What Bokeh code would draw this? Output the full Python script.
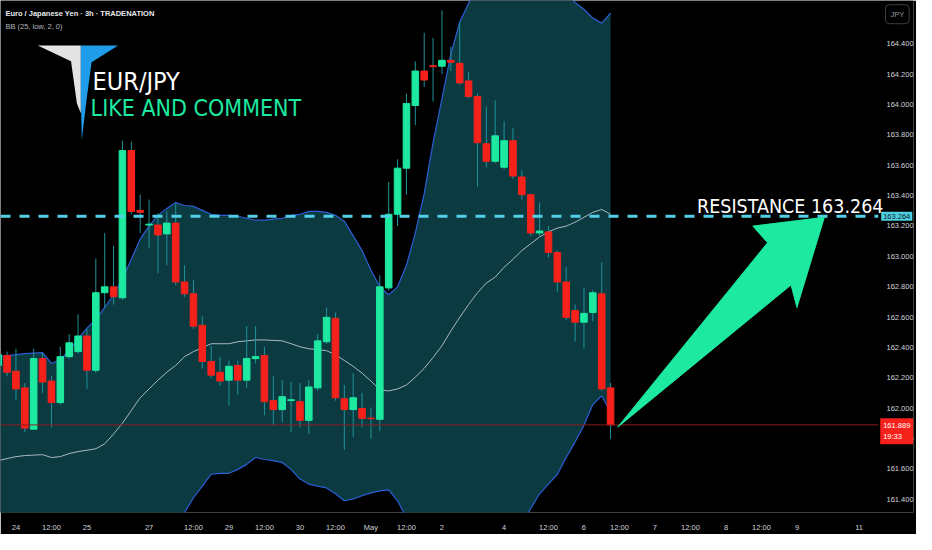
from bokeh.plotting import figure
from bokeh.models import Range1d, FixedTicker, Label, ColumnDataSource, NumeralTickFormatter
from bokeh.embed import file_html
from bokeh.resources import INLINE

# ---------------- data ----------------
bar_index = list(range(-1, 69))
opens = [162.281, 162.346, 162.243, 162.133, 161.861, 162.326, 162.178, 162.036, 162.339, 162.372,
         162.475, 162.249, 162.760, 162.799, 162.727, 163.697, 163.303, 163.206, 163.206, 163.148,
         163.219, 162.831, 162.753, 162.546, 162.307, 162.236, 162.184, 162.281, 162.184, 162.326,
         162.346, 162.049, 161.990, 162.049, 162.042, 161.919, 162.133, 162.437, 162.592, 162.062,
         161.990, 161.997, 161.934, 161.926, 162.792, 163.277, 163.581, 163.994, 164.221, 164.256,
         164.253, 164.292, 164.272, 164.156, 164.053, 163.742, 163.626, 163.587, 163.762, 163.523,
         163.406, 163.154, 163.161, 163.025, 162.831, 162.643, 162.566, 162.630, 162.753, 162.133]
highs = [162.378, 162.372, 162.391, 162.165, 162.391, 162.365, 162.210, 162.404, 162.488, 162.618,
         162.521, 162.986, 163.154, 163.070, 163.762, 163.755, 163.406, 163.374, 163.283, 163.296,
         163.348, 162.941, 162.844, 162.605, 162.411, 162.339, 162.314, 162.314, 162.540, 162.540,
         162.404, 162.210, 162.184, 162.172, 162.165, 162.184, 162.488, 162.663, 162.630, 162.152,
         162.230, 162.100, 162.004, 162.876, 163.490, 163.639, 164.072, 164.285, 164.473, 164.440,
         164.621, 164.382, 164.537, 164.214, 164.072, 163.988, 164.027, 163.891, 163.846, 163.568,
         163.413, 163.354, 163.199, 163.038, 162.928, 162.682, 162.792, 162.779, 162.960, 162.165]
lows = [162.243, 162.210, 162.055, 161.842, 161.855, 162.100, 161.874, 162.023, 162.326, 162.359,
        162.126, 162.230, 162.663, 162.682, 162.714, 163.277, 163.154, 163.057, 162.889, 162.941,
        162.811, 162.734, 162.521, 162.262, 162.197, 162.146, 162.016, 162.087, 162.133, 162.294,
        161.952, 161.887, 161.906, 161.842, 161.874, 161.831, 162.113, 162.424, 162.049, 161.725,
        161.810, 161.874, 161.797, 161.848, 162.773, 163.199, 163.406, 163.865, 164.117, 164.020,
        164.201, 164.221, 164.130, 164.040, 163.458, 163.587, 163.613, 163.574, 163.510, 163.374,
        163.135, 163.135, 162.992, 162.766, 162.579, 162.437, 162.391, 162.572, 162.113, 161.797]
closes = [162.352, 162.236, 162.126, 161.868, 162.326, 162.172, 162.036, 162.339, 162.430, 162.475,
          162.249, 162.760, 162.799, 162.734, 163.697, 163.296, 163.290, 163.212, 163.141, 163.219,
          162.831, 162.753, 162.540, 162.307, 162.217, 162.178, 162.275, 162.184, 162.326, 162.339,
          162.042, 161.990, 162.075, 162.055, 161.919, 162.139, 162.443, 162.598, 162.068, 161.990,
          162.068, 161.932, 161.930, 162.799, 163.277, 163.581, 164.007, 164.221, 164.162, 164.250,
          164.292, 164.279, 164.143, 164.053, 163.749, 163.626, 163.794, 163.762, 163.529, 163.406,
          163.154, 163.167, 163.025, 162.831, 162.598, 162.566, 162.624, 162.760, 162.126, 161.889]

bb_upper = [162.339, 162.346, 162.352, 162.359, 162.362, 162.365, 162.294, 162.320, 162.378, 162.456,
            162.527, 162.585, 162.663, 162.747, 162.850, 162.980, 163.115, 163.199, 163.270, 163.316,
            163.354, 163.335, 163.329, 163.303, 163.277, 163.270, 163.270, 163.264, 163.251, 163.238,
            163.238, 163.245, 163.251, 163.270, 163.277, 163.296, 163.296, 163.290, 163.270, 163.232,
            163.135, 163.038, 162.908, 162.799, 162.747, 162.799, 162.941, 163.154, 163.413, 163.749,
            164.040, 164.331, 164.544, 164.667, 164.783, 164.867, 164.912, 164.932, 164.912, 164.848,
            164.828, 164.822, 164.822, 164.809, 164.725, 164.673, 164.628, 164.570, 164.537, 164.602]
bb_basis = [161.654, 161.667, 161.680, 161.687, 161.690, 161.693, 161.674, 161.680, 161.700, 161.713,
            161.722, 161.732, 161.764, 161.829, 161.900, 161.984, 162.068, 162.126, 162.184, 162.236,
            162.281, 162.339, 162.372, 162.398, 162.424, 162.424, 162.424, 162.437, 162.443, 162.449,
            162.449, 162.446, 162.443, 162.424, 162.404, 162.391, 162.385, 162.378, 162.352, 162.314,
            162.275, 162.230, 162.178, 162.120, 162.113, 162.126, 162.152, 162.204, 162.262, 162.333,
            162.411, 162.508, 162.598, 162.682, 162.760, 162.824, 162.863, 162.928, 162.980, 163.038,
            163.083, 163.128, 163.161, 163.186, 163.199, 163.225, 163.257, 163.290, 163.309, 163.277]
bb_lower = [160.969, 160.989, 161.008, 161.014, 161.021, 161.021, 161.053, 161.040, 161.021, 160.969,
            160.918, 160.879, 160.866, 160.911, 160.950, 160.989, 161.021, 161.066, 161.131, 161.195,
            161.254, 161.312, 161.409, 161.486, 161.564, 161.570, 161.570, 161.596, 161.629, 161.674,
            161.661, 161.654, 161.641, 161.596, 161.532, 161.499, 161.486, 161.474, 161.435, 161.389,
            161.402, 161.422, 161.441, 161.454, 161.461, 161.389, 161.279, 161.254, 161.111, 160.918,
            160.782, 160.685, 160.652, 160.698, 160.737, 160.782, 160.814, 160.924, 161.047, 161.228,
            161.338, 161.435, 161.499, 161.564, 161.674, 161.777, 161.887, 162.023, 162.081, 161.971]

resistance = 163.264
last_price = 161.889
last_time = "19:33"

x_tick_pos = [1, 5, 9, 16, 21, 25, 29, 33, 37, 41, 45, 49, 56, 61, 65, 69, 73, 77, 81, 85, 89, 96]
x_tick_labels = ["24", "12:00", "25", "27", "12:00", "29", "12:00", "30", "12:00", "May", "12:00", "2",
                 "4", "12:00", "6", "12:00", "7", "12:00", "8", "12:00", "9", "11"]
y_ticks = [161.4, 161.6, 161.8, 162.0, 162.2, 162.4, 162.6, 162.8, 163.0, 163.2, 163.4, 163.6,
           163.8, 164.0, 164.2, 164.4]

# ---------------- styling ----------------
GREEN = "#1de9a0"
RED = "#f5211b"
WICK = "#1f939b"
FILL = "#0b3a40"
BAND = "#2c5fd6"
BASIS = "#a9b9c1"
NARROW = "DejaVu Sans Condensed"
UI = "Liberation Sans"


def px_x(px):  # reference-pixel position -> bar index (annotations only)
    return (px - 6.7) / 9.06


def px_y(py):  # reference-pixel position -> price (annotations only)
    return 164.686 - 0.006464 * py


p = figure(width=916, height=534, output_backend="svg", toolbar_location=None,
           x_range=Range1d(px_x(0), px_x(932)), y_range=Range1d(px_y(522), px_y(0)),
           y_axis_location="right", min_border_left=0, min_border_top=0,
           min_border_right=0, min_border_bottom=20)
p.background_fill_color = "black"
p.border_fill_color = "black"
p.outline_line_color = None
p.grid.visible = False

# axes
p.xaxis.ticker = FixedTicker(ticks=x_tick_pos)
p.xaxis.major_label_overrides = {k: v for k, v in zip(x_tick_pos, x_tick_labels)}
p.yaxis.ticker = FixedTicker(ticks=y_ticks)
p.yaxis.formatter = NumeralTickFormatter(format="0.000")
for ax in (p.xaxis[0], p.yaxis[0]):
    ax.axis_line_color = None
    ax.major_tick_line_color = None
    ax.minor_tick_line_color = None
    ax.major_tick_out = 0
    ax.major_tick_in = 0
    ax.minor_tick_out = 0
    ax.minor_tick_in = 0
    ax.major_label_text_color = "#d1d4dc"
    ax.major_label_text_font = UI
    ax.major_label_text_font_size = "7.5px"
p.xaxis.major_label_standoff = 10
p.yaxis.major_label_standoff = -27

# Bollinger bands
bb = ColumnDataSource(dict(x=bar_index, up=bb_upper, mid=bb_basis, lo=bb_lower))
p.varea(x="x", y1="lo", y2="up", source=bb, fill_color=FILL)
p.line(x="x", y="up", source=bb, line_color=BAND, line_width=1.2)
p.line(x="x", y="lo", source=bb, line_color=BAND, line_width=1.2)
p.line(x="x", y="mid", source=bb, line_color=BASIS, line_width=1)

# candles
colors = [GREEN if c >= o else RED for o, c in zip(opens, closes)]
src = ColumnDataSource(dict(x=bar_index, o=opens, h=highs, l=lows, c=closes,
                            top=[max(o, c) for o, c in zip(opens, closes)],
                            bot=[min(o, c) for o, c in zip(opens, closes)], col=colors))
p.segment(x0="x", y0="l", x1="x", y1="h", source=src, line_color=WICK, line_width=1)
p.vbar(x="x", width=0.74, top="top", bottom="bot", source=src, fill_color="col",
       line_color="col", line_width=1)

# price lines
p.segment(x0=[px_x(0)], y0=[last_price], x1=[px_x(896)], y1=[last_price],
          line_color="#8e1b1b", line_width=1)
p.segment(x0=[px_x(0)], y0=[resistance], x1=[px_x(896)], y1=[resistance],
          line_color="#52cfe6", line_width=3, line_dash="10 9")

# arrow
arrow_x = [px_x(v) for v in (630, 783, 768, 841, 813, 807)]
arrow_y = [px_y(v) for v in (435, 247, 230, 221, 313, 290)]
p.patch(arrow_x, arrow_y, fill_color=GREEN, line_color=GREEN, line_width=1)

# logo
p.patch([px_x(v) for v in (38, 82, 82, 78, 72)], [px_y(v) for v in (46, 46, 115, 105, 62)],
        fill_color="#e4e4e4", line_color=None)
p.patch([px_x(v) for v in (82, 120, 93, 88, 83, 82)], [px_y(v) for v in (46, 46, 63, 100, 142, 100)],
        fill_color="#1f9cea", line_color=None)

p.add_layout(Label(x=px_x(94), y=px_y(83), text="EUR/JPY", text_color="white",
                   text_font=NARROW, text_font_size="25px", text_baseline="alphabetic"))
p.add_layout(Label(x=px_x(92), y=px_y(110), text="LIKE AND COMMENT", text_color=GREEN,
                   text_font=NARROW, text_font_size="23px", text_baseline="alphabetic"))

# resistance caption
p.add_layout(Label(x=px_x(711), y=px_y(210), text="RESISTANCE  " + f"{resistance:.3f}",
                   text_color="white", text_font=NARROW, text_font_size="19.5px",
                   text_baseline="alphabetic"))

# header texts
p.add_layout(Label(x=px_x(5), y=px_y(13), text="Euro / Japanese Yen · 3h · TRADENATION",
                   text_color="#e8eaed", text_font=UI, text_font_size="7.5px",
                   text_font_style="bold", text_baseline="middle"))
p.add_layout(Label(x=px_x(5), y=px_y(27), text="BB (25, low, 2, 0)",
                   text_color="#b2b5be", text_font=UI, text_font_size="7.5px",
                   text_baseline="middle"))

# axis price boxes
p.add_layout(Label(x=px_x(899), y=resistance, text=f"{resistance:.3f}", text_color="#131722",
                   text_font=UI, text_font_size="7.5px", text_baseline="middle",
                   background_fill_color="#4dd0e1", padding=2))
p.add_layout(Label(x=px_x(898), y=px_y(426), text=f"{last_price:.3f}\n{last_time}",
                   text_color="white", text_font=UI, text_font_size="7.5px",
                   text_baseline="top", background_fill_color="#f5211b", padding=3))
p.add_layout(Label(x=px_x(915.5), y=px_y(14), text="JPY", text_color="#9598a1",
                   text_font=UI, text_font_size="7.5px", text_align="center",
                   text_baseline="middle", background_fill_color="black",
                   border_line_color="#3a3e48", padding=5, border_radius=4))

open("out.html", "w").write(file_html(p, INLINE))
